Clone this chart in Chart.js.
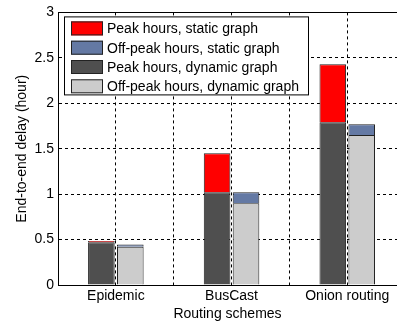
<!DOCTYPE html>
<html>
<head>
<meta charset="utf-8">
<script src="https://cdn.jsdelivr.net/npm/chart.js@4/dist/chart.umd.min.js"></script>
<style>
  html, body { margin: 0; padding: 0; background: #fff; }
  #wrap { width: 397px; height: 323px; }
</style>
</head>
<body>
<div id="wrap"><canvas id="c" width="397" height="323"></canvas></div>
<script>
// chart data
var categories = ["Epidemic", "BusCast", "Onion routing"];
var peakDynamic = [0.47, 1.02, 1.79];
var peakStatic = [0.485, 1.45, 2.43];
var offPeakDynamic = [0.42, 0.90, 1.65];
var offPeakStatic = [0.445, 1.02, 1.77];
var yTicks = [0, 0.5, 1, 1.5, 2, 2.5, 3];

var FONT = "'Liberation Sans', Arial, sans-serif";

function points(arr) {
  return arr.map(function (v, i) { return { x: i + 1, y: v }; });
}
function diff(top, bottom) {
  return top.map(function (v, i) { return { x: i + 1, y: v - bottom[i] }; });
}

// legend inside the axes, like matlab
var boxLegend = {
  id: "boxLegend",
  afterDraw: function (chart) {
    var ctx = chart.ctx;
    var a = chart.chartArea;
    var order = [1, 3, 0, 2];
    var x = a.left + 6, y = a.top + 4, w = 244, h = 78;
    ctx.save();
    ctx.fillStyle = "#fff";
    ctx.fillRect(x, y, w, h);
    ctx.strokeStyle = "#000";
    ctx.lineWidth = 1;
    ctx.strokeRect(x + 0.5, y + 0.5, w, h);
    ctx.font = "14px " + FONT;
    ctx.textBaseline = "middle";
    order.forEach(function (di, k) {
      var ds = chart.data.datasets[di];
      var cy = y + 12 + k * 19.3;
      ctx.fillStyle = ds.backgroundColor;
      ctx.fillRect(x + 7, cy - 7, 32, 14);
      ctx.strokeStyle = "#222";
      ctx.strokeRect(x + 7.5, cy - 6.5, 31, 13);
      ctx.fillStyle = "#000";
      ctx.fillText(ds.label, x + 43, cy + 1);
    });
    ctx.restore();
  }
};

new Chart(document.getElementById("c"), {
  type: "bar",
  data: {
    datasets: [
      { label: "Peak hours, dynamic graph", data: points(peakDynamic), stack: "peak",
        backgroundColor: "#4f4f4f", borderColor: "#222", borderWidth: 1 },
      { label: "Peak hours, static graph", data: diff(peakStatic, peakDynamic), stack: "peak",
        backgroundColor: "#ff0000", borderColor: "#222", borderWidth: 1 },
      { label: "Off-peak hours, dynamic graph", data: points(offPeakDynamic), stack: "off",
        backgroundColor: "#cccccc", borderColor: "#222", borderWidth: 1 },
      { label: "Off-peak hours, static graph", data: diff(offPeakStatic, offPeakDynamic), stack: "off",
        backgroundColor: "#6479a4", borderColor: "#222", borderWidth: 1 }
    ]
  },
  options: {
    responsive: false,
    animation: false,
    categoryPercentage: 1.0,
    barPercentage: 0.92,
    layout: { padding: { top: 10, right: 0, left: 0, bottom: 0 } },
    plugins: { legend: { display: false }, tooltip: { enabled: false } },
    scales: {
      x: {
        type: "linear",
        stacked: true,
        offset: false,
        min: 0.5,
        max: 3.43,
        grid: { color: "#000", lineWidth: 1, drawTicks: false, offset: false },
        border: { display: true, color: "#000", width: 1, dash: [3, 3] },
        ticks: {
          stepSize: 0.5,
          includeBounds: false,
          autoSkip: false,
          maxRotation: 0,
          padding: 3,
          color: "#000",
          font: { family: FONT, size: 14 },
          callback: function (v) {
            return Number.isInteger(v) ? categories[v - 1] : "";
          }
        },
        title: { display: true, text: "Routing schemes", color: "#000",
          font: { family: FONT, size: 14 }, padding: { top: 0, bottom: 0 } },
        afterFit: function (s) { s.height = 38; }
      },
      xTop: {
        type: "linear",
        position: "top",
        offset: false,
        min: 0.5,
        max: 3.43,
        grid: { display: false, drawTicks: false, offset: false },
        border: { display: true, color: "#000", width: 1 },
        ticks: { display: false },
        afterFit: function (s) { s.height = 0; }
      },
      y: {
        stacked: true,
        min: 0,
        max: 3,
        grid: { color: "#000", lineWidth: 1, drawTicks: false },
        border: { display: true, color: "#000", width: 1, dash: [3, 3] },
        afterBuildTicks: function (s) {
          s.ticks = yTicks.map(function (v) { return { value: v }; });
        },
        ticks: {
          padding: 4,
          color: "#000",
          font: { family: FONT, size: 14 },
          callback: function (v) { return String(v); }
        },
        title: { display: true, text: "End-to-end delay (hour)", color: "#000",
          font: { family: FONT, size: 14 }, padding: { top: 14, bottom: 0 } },
        afterFit: function (s) { s.width = 58; }
      }
    }
  },
  plugins: [boxLegend]
});
</script>
</body>
</html>
